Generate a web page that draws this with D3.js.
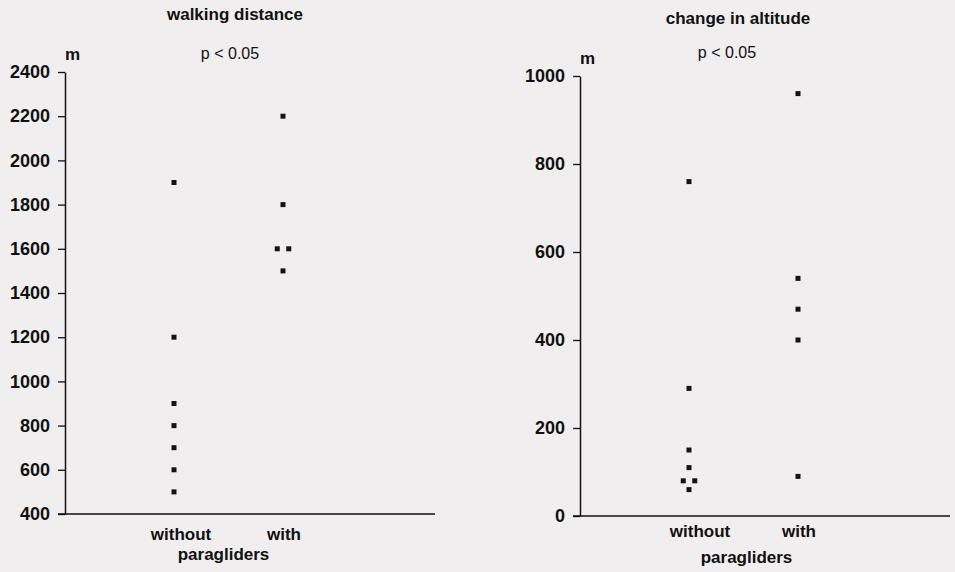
<!DOCTYPE html>
<html>
<head>
<meta charset="utf-8">
<script src="https://cdn.jsdelivr.net/npm/d3@7/dist/d3.min.js"></script>
<style>
  body { margin: 0; background: #f0eeef; }
  svg { display: block; font-family: "Liberation Sans", Arial, sans-serif; }
</style>
</head>
<body>
<div id="chart-area"></div>
<script>
// groups on the x axis
var categories = ["without", "with"];

// walking distance (m)
var distWithout = [1900, 1200, 900, 800, 700, 600, 500];
var distWith = [2200, 1800, 1600, 1600, 1500];
var distTicks = [400, 600, 800, 1000, 1200, 1400, 1600, 1800, 2000, 2200, 2400];

// change in altitude (m)
var altWithout = [760, 290, 150, 110, 80, 80, 60];
var altWith = [960, 540, 470, 400, 90];
var altTicks = [0, 200, 400, 600, 800, 1000];

var svg = d3.select("#chart-area")
  .append("svg")
  .attr("width", 955)
  .attr("height", 572);

svg.append("rect").attr("width", 955).attr("height", 572).attr("fill", "#f0eeef");

function panel(opt) {
  var width = 370, tickLen = 7;
  var g = svg.append("g")
    .attr("transform", "translate(" + opt.left + ",0)");

  var y = d3.scaleLinear()
    .domain(d3.extent(opt.ticks))
    .range([opt.bottom, opt.top]);

  var x = d3.scalePoint()
    .domain(categories)
    .range([0, 327])
    .padding(1);

  // Y axis
  var yAxis = g.append("g")
    .call(d3.axisLeft(y)
      .tickValues(opt.ticks)
      .tickFormat(d3.format("d"))
      .tickSize(tickLen)
      .tickPadding(8)
      .tickSizeOuter(0));
  yAxis.select(".domain").attr("stroke", "#111").attr("stroke-width", 1.5);
  yAxis.selectAll(".tick line").attr("stroke", "#111").attr("stroke-width", 1.3);
  yAxis.selectAll(".tick text")
    .attr("font-size", "18px")
    .attr("font-weight", "bold")
    .attr("fill", "#111")
    .attr("font-family", "Liberation Sans, Arial, sans-serif");

  // X baseline
  g.append("line")
    .attr("x1", -tickLen).attr("x2", width)
    .attr("y1", opt.bottom).attr("y2", opt.bottom)
    .attr("stroke", "#111").attr("stroke-width", 1.5);

  // points, duplicates spread side by side
  [opt.without, opt.with].forEach(function(vals, gi) {
    var cx = x(categories[gi]);
    var counts = d3.rollup(vals, function(v) { return v.length; }, function(d) { return d; });
    var seen = new Map();
    vals.forEach(function(v) {
      var n = counts.get(v), k = seen.get(v) || 0;
      seen.set(v, k + 1);
      var off = (k - (n - 1) / 2) * 11.5;
      g.append("rect")
        .attr("x", cx + off - 2.5)
        .attr("y", y(v) - 2.5)
        .attr("width", 5).attr("height", 5)
        .attr("fill", "#141214");
    });
  });

  // texts
  g.append("text")
    .attr("x", opt.titleX).attr("y", opt.titleY)
    .attr("text-anchor", "middle")
    .attr("font-size", "17px").attr("font-weight", "bold").attr("fill", "#111")
    .text(opt.title);

  g.append("text")
    .attr("x", 0).attr("y", opt.mY)
    .attr("font-size", "17px").attr("font-weight", "bold").attr("fill", "#111")
    .text("m");

  g.append("text")
    .attr("x", opt.pX).attr("y", opt.pY)
    .attr("text-anchor", "middle")
    .attr("font-size", "16px").attr("fill", "#111")
    .text("p < 0.05");

  g.selectAll(".cat")
    .data(categories)
    .enter()
    .append("text")
    .attr("class", "cat")
    .attr("x", function(d, i) { return x(d) + (i === 0 ? opt.withoutDx : 1); })
    .attr("y", opt.catY)
    .attr("text-anchor", "middle")
    .attr("font-size", "17px").attr("font-weight", "bold").attr("fill", "#111")
    .text(function(d) { return d; });

  g.append("text")
    .attr("x", (x(categories[0]) + x(categories[1])) / 2 + opt.parDx)
    .attr("y", opt.parY)
    .attr("text-anchor", "middle")
    .attr("font-size", "17px").attr("font-weight", "bold").attr("fill", "#111")
    .text("paragliders");
}

panel({
  left: 65, top: 72, bottom: 514,
  ticks: distTicks, without: distWithout, with: distWith,
  title: "walking distance", titleX: 170, titleY: 20,
  mY: 60, pX: 165, pY: 59,
  catY: 540, withoutDx: 7, parY: 560, parDx: -5
});

panel({
  left: 580, top: 76, bottom: 516,
  ticks: altTicks, without: altWithout, with: altWith,
  title: "change in altitude", titleX: 158, titleY: 24,
  mY: 64, pX: 147, pY: 58,
  catY: 537, withoutDx: 11, parY: 563, parDx: 3
});
</script>
</body>
</html>
